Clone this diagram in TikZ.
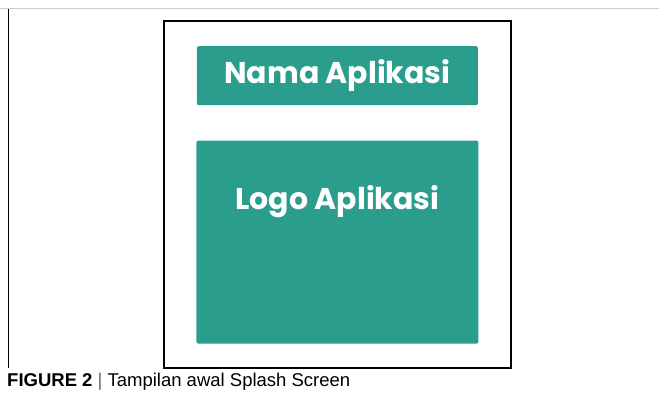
\documentclass[tikz,border=0pt]{standalone}
\usepackage{fontspec}
\setmainfont{Liberation Sans}
\newfontfamily\appfont{Poppins}
\usetikzlibrary{positioning}
\definecolor{appteal}{RGB}{42,157,140}
\begin{document}
\begin{tikzpicture}[x=1pt, y=-1pt,
    screen/.style = {draw, line width=1.8pt, minimum width=347pt, minimum height=347pt},
    tealbox/.style = {fill=appteal, rounded corners=2pt, inner sep=0pt},
    applabel/.style = {text=white, font=\appfont\bfseries\fontsize{30}{30}\selectfont}]
  \useasboundingbox (0,0) rectangle (659,402);
  \draw[black!20, line width=1pt] (0,8) -- (659,8);
  \draw[line width=0.9pt] (8,9) -- (8,368);
  %
  \node[screen, anchor=north west] (screen) at (163,20) {};
  \node[tealbox, applabel, minimum width=281pt, minimum height=59pt] (nama) [below=26pt of screen.north] {Nama Aplikasi};
  \node[tealbox, minimum width=282pt, minimum height=203pt] (logo) [below=35pt of nama] {};
  \node[applabel] (logotext) [below=42pt of logo.north] {Logo Aplikasi};
  %
  \node[anchor=west, inner sep=0pt, font=\fontsize{18.5}{19}\selectfont] (caption) at (7,382)
    {\textbf{FIGURE 2} {\color{black!60}|} Tampilan awal Splash Screen};
\end{tikzpicture}
\end{document}
